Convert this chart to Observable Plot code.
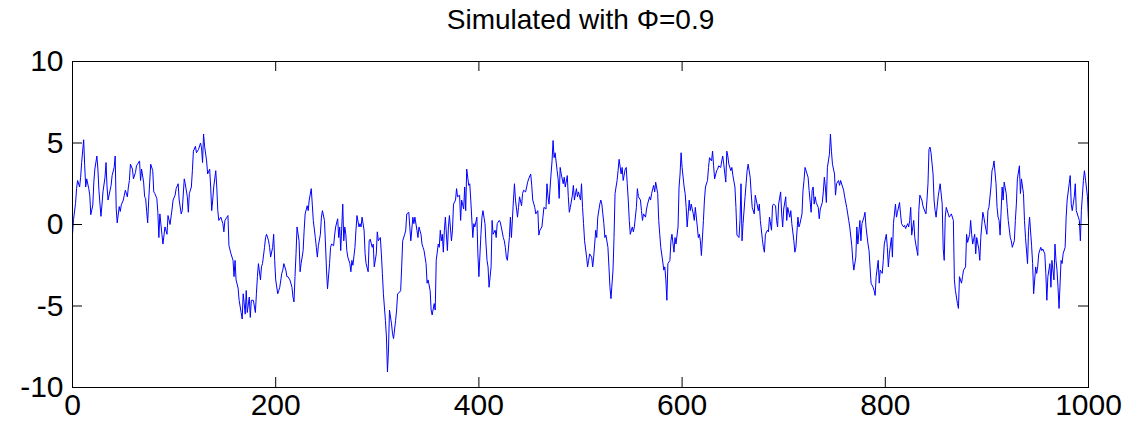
<!DOCTYPE html>
<html><head><meta charset="utf-8">
<script src="https://cdn.jsdelivr.net/npm/d3@7"></script>
<script src="https://cdn.jsdelivr.net/npm/@observablehq/plot@0.6"></script>
<style>body{margin:0;background:#fff}</style>
</head><body><div id="chart"></div>
<script>
const title = "Simulated with Φ=0.9";
const xTicks = [0, 200, 400, 600, 800, 1000];
const yTicks = [-10, -5, 0, 5, 10];

// time index and value
const tA = [0,1,3,4,5,7,8,9,11,12,13,14,16,17,18,20,21,22,24,25,26,28,29,30,32,33,34,35,37,38,39,41,42,43,44,46,47,48,50,51,52,54,55,56,57,59,60,62,63,64,66,67,68,70,71,72,73,74,75,76,77,79,80,81,83,84,85];
const vA = [-0.6,0.3,1.3,2.2,2.7,2.3,2.9,3.8,5.2,3.6,2.3,2.8,2.2,1.8,0.6,1.2,2.6,3.4,4.2,3.4,2.1,0.5,1.2,2.0,2.9,3.8,2.3,1.5,2.1,2.4,3.0,3.5,4.2,1.0,0.1,1.1,0.8,1.2,1.5,1.8,2.1,1.7,2.3,2.7,3.7,3.4,2.8,3.2,3.6,3.7,3.9,2.7,3.4,2.6,1.7,1.6,0.8,0.1,1.5,2.6,3.7,3.3,2.0,1.9,1.6,0.75,-0.8];

const tB = [86,88,89,91,93,94,96,98,99,101,102,104,105,107,108,110,111,113,114,115,117,118,119,121,122,124,126,127,128,129,130,132,133,135,136,137,138,139,141,142,143,144,146,148,149,150,152,153,154,156,158,159,160,161,163,164,166,167,168,170,171,172,174,175,176];
const vB = [0.65,-0.6,-1.2,-0.15,-0.6,0.55,0,0.95,1.5,1.8,2.2,2.5,1.5,0.65,0.85,2.8,2.5,1.7,0.75,1.9,2.3,3.3,4.5,4.8,4.4,4.6,5.0,4.7,3.8,5.55,4.8,3.9,3.1,3.4,2.3,0.85,1.5,2.3,3.3,2.3,0.85,0.25,0.45,0.05,-0.45,0.25,0.45,0.55,-1.3,-1.8,-2.2,-3.2,-2.2,-3.4,-3.9,-4.65,-5.4,-5.8,-4.25,-5.5,-4.05,-5.4,-4.45,-5.7,-4.65];

const tC = [178,180,181,182,183,185,186,187,189,190,191,193,194,195,197,198,199,200,202,203,204,206,207,208,210,211,212,214,216,217,218,219,220,221,223,224,225,227,228,229,231,232,233,235,236,237,239,240,241,242,244,245,246,248,249,250,251,253,254,255,257,258,259,261,262,263,264,266,267,268];
const vC = [-4.65,-5.4,-4.25,-3.2,-2.4,-3.4,-2.6,-2.4,-1.4,-0.8,-0.6,-1.0,-1.4,-2.0,-1.4,-0.6,-2.2,-3.4,-4.25,-4.05,-3.85,-3.0,-2.8,-2.4,-2.8,-3.2,-3.2,-3.4,-3.85,-4.45,-4.75,-3.2,-1.8,-0.15,-1.0,-2.9,-2.4,-1.6,-0.35,0.65,1.15,0.85,1.5,2.2,1.25,0.25,-0.8,-1.4,-2.0,-1.3,-0.6,0.45,0.85,0.25,-1.2,-2.8,-3.95,-2.4,-1.4,-1.2,-1.3,-0.65,-0.15,0.35,-0.8,-0.15,-1.6,1.25,-1.0,-0.15];

const tD = [269,270,271,273,274,275,276,278,279,280,282,283,284,285,287,288,289,291,292,293,295,296,297,299,300,301,303,304,305,306,308,309,310,311,312,314,315,316,318,319,320,322,323,324,325,327,328,329,331,332,333,335,336,337,339,340,341,343,344,345,346,348,349,350,352,353,354,356,357,358,360,361];
const vD = [-0.6,-1.6,-2.0,-2.4,-2.9,-2.2,-2.5,-1.4,-0.35,0.55,-0.15,0.05,-0.15,0.45,-0.35,-1.8,-2.4,-2.9,-1.0,-0.9,-1.4,-1.2,-2.6,-1.8,-0.45,-1.0,-0.8,-1.8,-3.0,-4.25,-5.9,-6.9,-9.05,-7.7,-5.25,-6.1,-6.7,-7.0,-5.9,-5.25,-4.25,-4.15,-4.05,-2.6,-1.0,-0.6,-0.35,0.65,0.75,-0.15,-1.0,0.45,0.05,0.45,-0.35,-0.8,-0.15,-0.6,-1.2,-1.4,-1.6,-2.4,-3.6,-3.4,-4.05,-5.25,-5.55,-4.85,-5.25,-2.2,-1.2,-1.4];

const tE = [362,363,364,365,366,367,369,370,371,373,374,375,377,378,379,381,382,383,385,386,387,388,390,391,392,394,395,396,398,399,400,402,403,404,406,407,408,409,410,412,413,414,416,417,418,420,421,422,424,425,426,427,428,430,431,432,434,435,436,438,439,440,442,443,444,446,447,448,449,451,452,453];
const vE = [-0.35,-1.0,-0.6,-1.7,-0.35,0.45,-1.6,-0.15,0.55,-1.0,-0.35,1.25,1.5,2.2,1.7,1.8,0.25,1.5,0.95,2.3,0.85,3.4,2.4,2.5,1.5,-0.8,0.05,-0.15,0.45,-1.8,-3.2,-0.6,0.45,0.85,0.05,-1.2,-2.2,-2.6,-3.85,-2.6,0.25,-0.6,-0.35,-0.8,0.05,0.25,0.15,-0.15,-0.8,-1.0,-1.4,-2.0,-2.2,-0.8,0.45,-0.8,1.5,2.5,1.5,0.45,1.05,1.7,1.15,1.9,2.1,2.0,2.3,2.6,2.8,3.1,2.4,1.5];

const tF = [455,456,458,459,460,462,463,464,466,467,468,469,471,472,473,474,475,477,478,479,480,481,483,484,485,487,488,489,490,492,493,494,496,497,498,500,501,502,503,504,506,507,508,509,511,512,513,515,516,517,519,520,521,523,524,525,527,528,529,530,532,533,534,536,537,538,540,541,542,544,545,546];
const vF = [1.05,0.65,0.85,-0.65,-0.35,-0.15,0.45,1.05,0.95,2.5,1.7,1.25,3.1,3.9,5.15,4.1,4.4,3.3,2.8,1.6,3.5,3.1,2.5,2.9,2.3,3.0,1.7,0.75,1.05,1.8,2.4,1.5,2.2,1.7,2.0,1.5,2.5,1.05,0.05,-1.0,-2.0,-2.6,-2.2,-1.8,-2.0,-2.6,-2.0,-0.35,-0.8,0.45,1.25,1.5,1.25,0.05,-0.8,-0.65,-1.4,-2.6,-3.85,-4.55,-2.8,-0.8,1.9,2.7,3.3,4.0,3.1,3.5,2.7,3.4,3.5,2.5];

const tG = [547,548,549,551,552,553,555,556,557,559,560,561,562,564,565,566,568,569,570,572,573,574,576,577,578,579,581,582,583,584,585,586,588,589,590,592,593,594,596,597,598,599,600,602,603,604,605,607,608,609,611,612,613,615,616,617,618,619,621,622,623,625,626,627,629,630,631,632,634,635,636,638,639,640];
const vG = [1.5,0.25,-0.6,-0.15,-0.45,-0.15,1.05,2.2,1.7,1.5,0.85,0.25,0.65,0.45,0.95,1.25,1.7,1.5,1.9,2.4,2.0,2.6,1.9,0.25,-0.6,-1.4,-2.3,-2.8,-2.6,-3.4,-4.65,-2.4,-2.2,-1.0,-0.6,-1.7,-0.8,-1.2,-0.15,2.3,3.1,4.4,3.5,2.3,1.9,1.05,-0.15,1.5,0.85,1.25,0.65,0.25,1.05,-0.15,-0.8,-0.6,-1.0,-1.9,0.25,1.5,2.3,2.7,3.5,4.1,3.9,4.5,3.6,2.8,3.3,3.4,3.6,3.5,3.9,4.2];

const tH = [641,643,644,645,646,648,649,650,652,653,654,656,657,658,659,660,662,663,664,665,667,668,669,671,672,673,675,676,677,679,680,681,682,684,685,686,688,689,690,692,693,694,695,697,698,699,700,702,703,704,706,707,708,710,711,712,714,715,716,718,719,720,721,723,724,725,727,728,729,730];
const vH = [3.7,2.6,4.5,4.2,3.7,3.3,3.5,3.0,2.3,1.05,-0.65,-0.8,0.25,2.5,-1.0,0.05,1.7,2.5,3.3,3.7,2.9,1.9,1.05,0.65,1.8,1.5,0.85,1.25,0.25,-0.9,-1.4,-1.7,-0.6,-0.35,-0.45,0.45,-0.35,1.15,1.25,1.15,0.25,-0.15,1.25,2.0,0.65,-0.15,0.95,1.7,0.25,1.05,0.45,0.85,0.05,-1.0,-1.7,-1.4,0.45,-0.15,0.05,0.65,2.1,2.7,3.5,3.1,2.9,2.1,0.75,2.1,2.3,1.25];

const tI = [731,732,734,735,736,738,739,740,741,742,743,745,746,747,748,750,751,752,754,755,756,758,759,760,762,763,764,765,767,768,769,771,772,773,775,776,777,779,780,781,783,784,785,786,788,789,790,791,793,794,795,797,798,799,801,802,803,804,806,807,808,810,811,812,814,815,816,818,819,820,822,823];
const vI = [1.7,1.35,1.05,0.35,0.95,1.35,2.0,2.9,2.3,1.35,3.5,4.3,5.55,4.5,3.7,3.1,1.8,2.5,2.7,2.4,2.7,2.3,2.1,1.7,1.05,0.65,0.25,-0.15,-1.3,-2.2,-2.8,-2.0,-0.15,-1.2,0.25,-1.0,0.05,0.45,0.75,-0.15,-1.2,-1.6,-2.6,-3.6,-3.85,-4.05,-4.35,-3.2,-2.2,-3.6,-2.8,-3.0,-2.2,-1.2,-0.6,-1.4,-2.6,-1.8,-0.8,-2.0,0.05,1.25,0.45,0.75,1.35,0.65,0.05,-0.15,-0.05,-0.25,0.05,-0.15];

const tJ = [824,825,826,828,829,830,832,833,834,836,837,838,840,841,842,843,844,845,847,848,849,850,852,853,854,856,857,858,859,860,862,863,864,865,867,868,869,871,872,873,875,876,877,879,880,881,883,884,885,886,888,889,890,892,893,894,896,897,898,900,901,902,904,905,906,907,909,910,911,912,913];
const vJ = [0.25,1.05,-0.65,0.25,-0.8,-1.2,-1.9,0.85,1.8,1.5,1.15,0.95,0.65,1.5,2.5,4.6,4.75,4.4,3.1,1.5,0.85,0.45,1.7,2.1,2.5,1.25,-1.5,-2.2,0.45,1.05,0.65,0.45,0.55,0.65,0.25,-3.4,-4.05,-4.85,-5.15,-3.2,-3.6,-3.2,-2.8,-2.6,-0.6,-1.1,-0.6,0.25,-0.6,-1.2,-0.6,-1.8,-0.8,-1.5,-2.2,-0.8,0.75,0.45,0.05,-0.6,0.85,1.05,2.3,3.3,3.5,3.9,2.5,1.05,0.45,0.25,-0.65];

const tK = [915,916,917,919,920,921,923,924,925,927,928,929,930,932,933,934,936,937,938,940,941,942,944,945,946,948,949,950,951,953,954,955,957,958,959,960,962,963,964,966,967,968,969,970,971,973,974,975,977,978,979,981,982,983,984,986,987,988,990,991,992,993,995,996,997,999,1000];
const vK = [2.3,1.5,2.6,1.9,1.05,0.25,-0.8,-1.0,-1.4,-1.0,0.25,1.25,2.8,3.6,1.9,2.8,1.9,0.25,-0.8,-2.4,-0.35,0.45,-1.3,-2.4,-4.25,-2.6,-3.0,-2.6,-1.8,-1.4,-1.6,-1.5,-1.8,-3.0,-4.65,-3.2,-2.4,-3.85,-2.2,-3.4,-1.2,-2.2,-2.8,-3.85,-5.15,-2.2,-2.4,-1.8,-1.4,0.45,1.5,2.5,3.0,1.25,0.85,1.7,2.5,0.85,0.45,0.25,-1.0,0.85,2.7,3.3,2.8,1.7,0.25];

const segments = [[tA,vA],[tB,vB],[tC,vC],[tD,vD],[tE,vE],[tF,vF],[tG,vG],[tH,vH],[tI,vI],[tJ,vJ],[tK,vK]];
segments.forEach(([t, v], k) => { if (t.length !== v.length) console.error("segment", k, t.length, v.length); });
const series = segments.flatMap(([t, v]) => t.map((ti, i) => ({t: ti, v: v[i]})).filter(d => d.v !== undefined));

const W = 1142, H = 428;
const mL = 72, mR = 54, mT = 61, mB = 41;
const fw = W - mL - mR, fh = H - mT - mB;
const tickLen = 10;
const font = "'Liberation Sans', Arial, Helvetica, sans-serif";

const chart = Plot.plot({
  width: W, height: H,
  marginLeft: mL, marginRight: mR, marginTop: mT, marginBottom: mB,
  style: {fontFamily: font, background: "#fff", color: "#000", overflow: "visible"},
  x: {domain: [0, 1000], label: null},
  y: {domain: [-10, 10], label: null},
  marks: [
    Plot.line(series, {x: "t", y: "v", stroke: "#0000ff", strokeWidth: 1}),
    Plot.ruleX(xTicks, {insetTop: fh - tickLen, stroke: "#000"}),
    Plot.ruleX(xTicks, {insetBottom: fh - tickLen, stroke: "#000"}),
    Plot.ruleY(yTicks, {insetRight: fw - tickLen, stroke: "#000"}),
    Plot.ruleY(yTicks, {insetLeft: fw - tickLen, stroke: "#000"}),
    Plot.frame({stroke: "#000"}),
    Plot.axisX(xTicks, {tickSize: 0, tickPadding: 6, fontSize: 30, label: null, tickFormat: d => String(d)}),
    Plot.axisY(yTicks, {tickSize: 0, tickPadding: 9, fontSize: 30, label: null, tickFormat: d => String(d)}),
    Plot.text([title], {text: d => d, frameAnchor: "top", dy: -41, fontSize: 28, lineAnchor: "middle"})
  ]
});
document.getElementById("chart").appendChild(chart);
</script>
</body></html>
